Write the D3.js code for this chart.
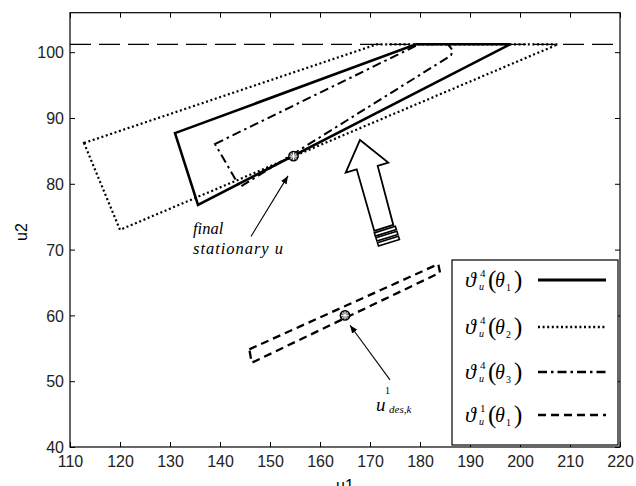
<!DOCTYPE html>
<html>
<head>
<meta charset="utf-8">
<script src="https://cdn.jsdelivr.net/npm/d3@7"></script>
<style>
  body { margin: 0; background: #fff; }
  svg { display: block; }
  .tick text { font-family: "Liberation Sans Narrow", "Arial Narrow", "Liberation Sans", sans-serif; font-size: 16px; fill: #222; }
  .ser { font-family: "Liberation Serif", "Times New Roman", serif; fill: #000; }
</style>
</head>
<body>
<svg id="chart" width="636" height="486"></svg>
<script>
// axis ranges / ticks
const xDomain = [110, 220];
const yDomain = [40, 106];
const xTicks = d3.range(110, 221, 10);
const yTicks = d3.range(40, 101, 10);

// upper bound u2 = 101.2
const upperBound = 101.2;

// polygons (u1, u2)
const theta1Iter4 = [[131, 87.7], [179.2, 101.2], [198, 101.2], [135.6, 76.8]];
const theta2Iter4 = [[112.8, 86.2], [171.4, 101.2], [207.6, 101.2], [120, 73.0]];
const theta3Iter4 = [[139, 86.05], [179.8, 101.2], [185.6, 101.2], [186.5, 100.3], [186.2, 99.5], [144, 79.5]];
const theta1Iter1 = [[145.86, 54.84], [183.66, 67.8], [184, 66.5], [146.34, 52.8]];

// marked points
const finalU = [154.7, 84.2];
const uDes = [165, 60];

// annotation arrows [from, to]
const finalArrow = [[146.2, 72.0], [153.6, 81.2]];
const desArrow = [[174, 50.2], [166, 58.5]];

// big hollow arrow outline
const bigArrow = [[168.0, 86.66], [165.14, 81.69], [167.34, 82.2], [170.86, 72.83],
                  [174.66, 73.74], [171.54, 82.71], [173.66, 83.21]];
const bigArrowBase = [172.76, 73.28];

const legendSup = ["4", "4", "4", "1"];
const legendSub = ["1", "2", "3", "1"];
const legendDash = [null, "2,2.6", "9,4,2.5,4", "8,5"];

const svg = d3.select("#chart");
const x = d3.scaleLinear().domain(xDomain).range([70, 620]);
const y = d3.scaleLinear().domain(yDomain).range([447, 12.7]);

// axes with inward ticks
const gx = svg.append("g").attr("transform", "translate(0,447)")
  .call(d3.axisBottom(x).tickValues(xTicks).tickSizeInner(-5).tickSizeOuter(0).tickPadding(9));
const gy = svg.append("g").attr("transform", "translate(70,0)")
  .call(d3.axisLeft(y).tickValues(yTicks).tickSizeInner(-5).tickSizeOuter(0).tickPadding(6));
svg.append("g").attr("transform", "translate(0,12.7)")
  .call(d3.axisTop(x).tickValues(xTicks).tickSizeInner(-5).tickSizeOuter(0).tickFormat(""));
svg.append("g").attr("transform", "translate(620,0)")
  .call(d3.axisRight(y).tickValues(yTicks).tickSizeInner(-5).tickSizeOuter(0).tickFormat(""));
svg.selectAll(".domain").remove();
svg.selectAll(".tick line").attr("stroke", "#000");
gy.selectAll(".tick text").attr("dy", "0.36em");

svg.append("rect").attr("x", 70).attr("y", 12.7).attr("width", 550).attr("height", 434.3)
  .attr("fill", "none").attr("stroke", "#000").attr("stroke-width", 1.2);

svg.append("text").attr("x", 345).attr("y", 491)
  .attr("text-anchor", "middle")
  .style("font-family", '"Liberation Sans Narrow", "Liberation Sans", sans-serif').style("font-size", "16px")
  .text("u1");
svg.append("text").attr("transform", "translate(27,232) rotate(-90)")
  .attr("text-anchor", "middle")
  .style("font-family", '"Liberation Sans Narrow", "Liberation Sans", sans-serif').style("font-size", "16px")
  .text("u2");

// upper bound dashed line
svg.append("line")
  .attr("x1", x(xDomain[0])).attr("x2", x(xDomain[1]))
  .attr("y1", y(upperBound)).attr("y2", y(upperBound))
  .attr("stroke", "#000").attr("stroke-width", 1.3).attr("stroke-dasharray", "21,8");

const line = d3.line().x(d => x(d[0])).y(d => y(d[1])).curve(d3.curveLinearClosed);
const polys = [
  { pts: theta2Iter4, dash: "2,2.6", w: 2.2 },
  { pts: theta3Iter4, dash: "9,4,2.5,4", w: 2 },
  { pts: theta1Iter4, dash: null, w: 2.6 },
  { pts: theta1Iter1, dash: "8,5", w: 2.3 }
];
svg.selectAll("path.poly").data(polys).enter().append("path")
  .attr("class", "poly")
  .attr("d", d => line(d.pts))
  .attr("fill", "none").attr("stroke", "#000")
  .attr("stroke-width", d => d.w)
  .attr("stroke-dasharray", d => d.dash);

// circled-asterisk markers
const mk = svg.selectAll("g.mk").data([finalU, uDes]).enter().append("g")
  .attr("class", "mk")
  .attr("transform", d => `translate(${x(d[0])},${y(d[1])})`);
mk.append("circle").attr("r", 4.6).attr("fill", "#666").attr("stroke", "#000").attr("stroke-width", 1.6);
mk.selectAll("line").data(d3.range(4)).enter().append("line")
  .attr("x1", i => -4 * Math.cos(i * Math.PI / 4)).attr("y1", i => -4 * Math.sin(i * Math.PI / 4))
  .attr("x2", i => 4 * Math.cos(i * Math.PI / 4)).attr("y2", i => 4 * Math.sin(i * Math.PI / 4))
  .attr("stroke", "#fff").attr("stroke-width", 0.9);

// thin arrows
svg.append("defs").append("marker").attr("id", "ah")
  .attr("viewBox", "0 0 10 10").attr("refX", 10).attr("refY", 5)
  .attr("markerWidth", 8).attr("markerHeight", 8).attr("markerUnits", "userSpaceOnUse")
  .attr("orient", "auto")
  .append("path").attr("d", "M0,1L10,5L0,9z").attr("fill", "#000");
svg.selectAll("line.ann").data([finalArrow, desArrow]).enter().append("line")
  .attr("class", "ann")
  .attr("x1", d => x(d[0][0])).attr("y1", d => y(d[0][1]))
  .attr("x2", d => x(d[1][0])).attr("y2", d => y(d[1][1]))
  .attr("stroke", "#000").attr("stroke-width", 1.1).attr("marker-end", "url(#ah)");

// big hollow arrow
svg.append("path").attr("d", line(bigArrow))
  .attr("fill", "#fff").attr("stroke", "#000").attr("stroke-width", 1.8).attr("stroke-linejoin", "miter");
const stripes = svg.append("g")
  .attr("transform", `translate(${x(bigArrowBase[0])},${y(bigArrowBase[1])}) rotate(-17.5)`);
stripes.selectAll("rect").data([1.8, 7, 12.2]).enter().append("rect")
  .attr("x", -10.5).attr("y", d => d).attr("width", 22).attr("height", 3.4)
  .attr("fill", "#fff").attr("stroke", "#000").attr("stroke-width", 1.6);

// annotation texts
svg.append("text").attr("class", "ser").attr("x", 193).attr("y", 234)
  .style("font-size", "16.5px").style("font-style", "italic").text("final");
svg.append("text").attr("class", "ser").attr("x", 193).attr("y", 254)
  .attr("textLength", 90).attr("lengthAdjust", "spacing")
  .style("font-size", "16.5px").style("font-style", "italic").text("stationary u");
svg.append("text").attr("class", "ser").attr("x", 376).attr("y", 411)
  .style("font-size", "19px").style("font-style", "italic").text("u");
svg.append("text").attr("class", "ser").attr("x", 385).attr("y", 394)
  .style("font-size", "10px").text("1");
svg.append("text").attr("class", "ser").attr("x", 389).attr("y", 413)
  .style("font-size", "11px").style("font-style", "italic").text("des,k");

// legend
svg.append("rect").attr("x", 452).attr("y", 260).attr("width", 166).attr("height", 185)
  .attr("fill", "#fff").attr("stroke", "#000").attr("stroke-width", 1.2);
const lgY = [280, 327, 372, 415];
const lg = svg.selectAll("g.lg").data(legendSup).enter().append("g")
  .attr("class", "lg").attr("transform", (d, i) => `translate(0,${lgY[i]})`);
lg.append("text").attr("class", "ser").attr("x", 465).attr("y", 7)
  .style("font-size", "22px").style("font-style", "italic").text("\u03D1");
lg.append("text").attr("class", "ser").attr("x", 480).attr("y", -3)
  .style("font-size", "11px").text(d => d);
lg.append("text").attr("class", "ser").attr("x", 479).attr("y", 10)
  .style("font-size", "10px").style("font-style", "italic").text("u");
lg.append("text").attr("class", "ser").attr("x", 488).attr("y", 8)
  .style("font-size", "25px").style("font-weight", "300").text("(");
lg.append("text").attr("class", "ser").attr("x", 495).attr("y", 7)
  .style("font-size", "20px").style("font-style", "italic").text("\u03B8");
lg.append("text").attr("class", "ser").attr("x", 506).attr("y", 11)
  .style("font-size", "10px").text((d, i) => legendSub[i]);
lg.append("text").attr("class", "ser").attr("x", 514).attr("y", 8)
  .style("font-size", "25px").style("font-weight", "300").text(")");
lg.append("line").attr("x1", 538).attr("x2", 606).attr("y1", 0).attr("y2", 0)
  .attr("stroke", "#000")
  .attr("stroke-width", (d, i) => i === 0 ? 2.8 : 2.4)
  .attr("stroke-dasharray", (d, i) => legendDash[i]);
</script>
</body>
</html>
